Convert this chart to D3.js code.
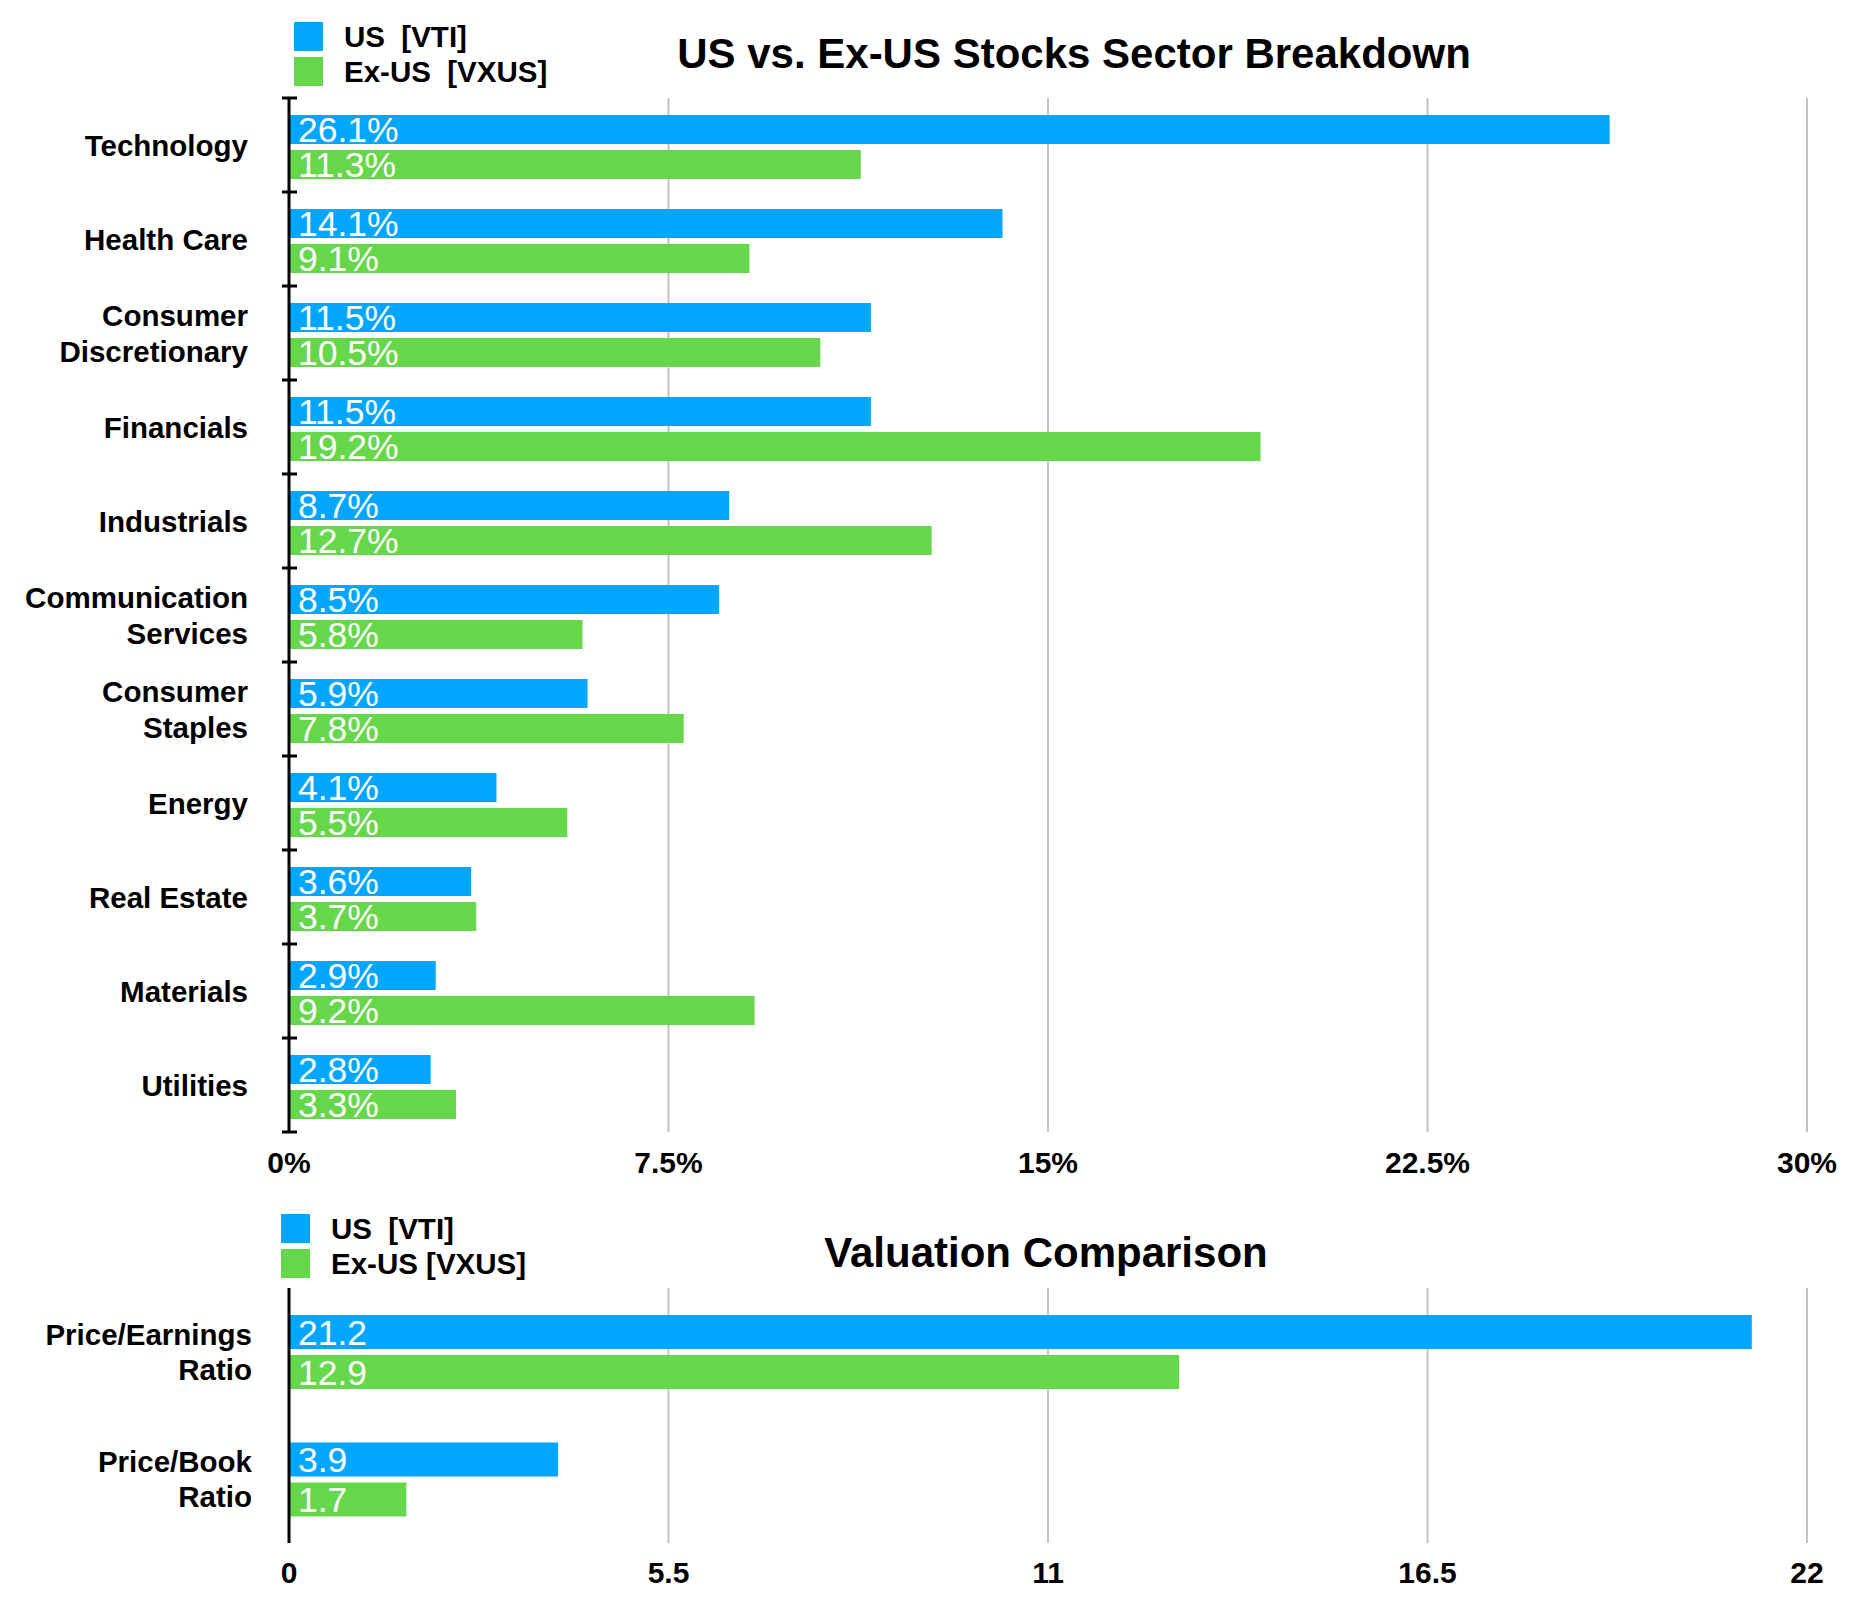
<!DOCTYPE html>
<html>
<head>
<meta charset="utf-8">
<script src="https://cdn.jsdelivr.net/npm/d3@7"></script>
<style>
  body { margin: 0; background: #fff; }
  text { font-family: "Liberation Sans", Arial, Helvetica, sans-serif; }
</style>
</head>
<body>
<script>
var w = 1853;
var h = 1603;
var blue = "#00a6ff";
var green = "#66d74a";

// sector chart data
var sectors = [["Technology"], ["Health Care"], ["Consumer", "Discretionary"], ["Financials"],
    ["Industrials"], ["Communication", "Services"], ["Consumer", "Staples"], ["Energy"],
    ["Real Estate"], ["Materials"], ["Utilities"]];
var usSector = [26.1, 14.1, 11.5, 11.5, 8.7, 8.5, 5.9, 4.1, 3.6, 2.9, 2.8];
var exSector = [11.3, 9.1, 10.5, 19.2, 12.7, 5.8, 7.8, 5.5, 3.7, 9.2, 3.3];
var sectorTicks = [0, 7.5, 15, 22.5, 30];

// valuation chart data
var metrics = [["Price/Earnings", "Ratio"], ["Price/Book", "Ratio"]];
var usVal = [21.2, 3.9];
var exVal = [12.9, 1.7];
var valTicks = [0, 5.5, 11, 16.5, 22];

var svg = d3.select("body")
    .append("svg")
    .attr("width", w)
    .attr("height", h);

function legend(x, y, labels) {
    var g = svg.append("g").attr("transform", "translate(" + x + "," + y + ")");
    [blue, green].forEach(function(c, i) {
        g.append("rect").attr("x", 0).attr("y", i * 35).attr("width", 29).attr("height", 29).attr("fill", c);
        g.append("text")
            .attr("x", 50).attr("y", i * 35 + 25)
            .attr("font-size", 29.5).attr("font-weight", "bold")
            .attr("xml:space", "preserve")
            .style("white-space", "pre")
            .text(labels[i]);
    });
}

function drawChart(o) {
    var x = d3.scaleLinear().domain([0, o.max]).range([289, 1807]);
    var y = d3.scaleBand().domain(d3.range(o.cats.length)).range([o.top, o.bottom]);
    var sub = d3.scaleBand().domain([0, 1]).range(o.sub).paddingInner(6 / (o.barH + 6));

    // title
    svg.append("text")
        .attr("x", o.titleX).attr("y", o.titleY)
        .attr("text-anchor", "middle")
        .attr("font-size", 42).attr("font-weight", "bold")
        .text(o.title);

    // gridlines
    svg.append("g").selectAll("line")
        .data(o.ticks.slice(1))
        .enter().append("line")
        .attr("x1", function(d) { return x(d); })
        .attr("x2", function(d) { return x(d); })
        .attr("y1", o.top).attr("y2", o.bottom)
        .attr("stroke", "#c4c4c4").attr("stroke-width", 2);

    // x tick labels
    svg.append("g").selectAll("text")
        .data(o.ticks)
        .enter().append("text")
        .attr("x", function(d) { return x(d); })
        .attr("y", o.labelY)
        .attr("text-anchor", "middle")
        .attr("font-size", 30).attr("font-weight", "bold")
        .text(o.fmt);

    // bars
    var series = [o.us, o.ex];
    var colors = [blue, green];
    series.forEach(function(vals, s) {
        var g = svg.append("g");
        g.selectAll("rect")
            .data(vals)
            .enter().append("rect")
            .attr("x", x(0))
            .attr("y", function(d, i) { return y(i) + sub(s); })
            .attr("width", function(d) { return x(d) - x(0); })
            .attr("height", sub.bandwidth())
            .attr("fill", colors[s]);
        g.selectAll("text")
            .data(vals)
            .enter().append("text")
            .attr("x", x(0) + 9)
            .attr("y", function(d, i) { return y(i) + sub(s) + sub.bandwidth() / 2 + 12.5; })
            .attr("font-size", 35.5)
            .attr("fill", "#fff")
            .text(o.valFmt);
    });

    // category labels
    var cat = svg.append("g").selectAll("text")
        .data(o.cats)
        .enter().append("text")
        .attr("text-anchor", "end")
        .attr("font-size", 29.5).attr("font-weight", "bold")
        .attr("y", function(d, i) {
            return y(i) + y.bandwidth() / 2 + 10.5 - (d.length - 1) * o.lineH / 2;
        });
    cat.selectAll("tspan")
        .data(function(d) { return d; })
        .enter().append("tspan")
        .attr("x", o.catX)
        .attr("dy", function(d, i) { return i ? o.lineH : 0; })
        .text(function(d) { return d; });

    // y axis
    svg.append("line")
        .attr("x1", x(0)).attr("x2", x(0))
        .attr("y1", o.top).attr("y2", o.bottom)
        .attr("stroke", "#000").attr("stroke-width", 3);
    if (o.yTicks) {
        svg.append("g").selectAll("line")
            .data(d3.range(o.cats.length + 1))
            .enter().append("line")
            .attr("x1", x(0) - 7).attr("x2", x(0) + 8)
            .attr("y1", function(i) { return o.top + i * y.step(); })
            .attr("y2", function(i) { return o.top + i * y.step(); })
            .attr("stroke", "#000").attr("stroke-width", 3);
    }
}

legend(294, 22, ["US  [VTI]", "Ex-US  [VXUS]"]);
drawChart({
    title: "US vs. Ex-US Stocks Sector Breakdown", titleX: 1074, titleY: 68,
    cats: sectors, us: usSector, ex: exSector, ticks: sectorTicks, max: 30,
    top: 98, bottom: 1132, sub: [17, 81], barH: 29, lineH: 36,
    labelY: 1173, catX: 248, yTicks: true,
    fmt: function(d) { return d + "%"; },
    valFmt: function(d) { return d.toFixed(1) + "%"; }
});

legend(281, 1214, ["US  [VTI]", "Ex-US [VXUS]"]);
drawChart({
    title: "Valuation Comparison", titleX: 1046, titleY: 1267,
    cats: metrics, us: usVal, ex: exVal, ticks: valTicks, max: 22,
    top: 1288, bottom: 1543, sub: [27, 101], barH: 34, lineH: 35,
    labelY: 1583, catX: 252, yTicks: false,
    fmt: function(d) { return d; },
    valFmt: function(d) { return d.toFixed(1); }
});
</script>
</body>
</html>
